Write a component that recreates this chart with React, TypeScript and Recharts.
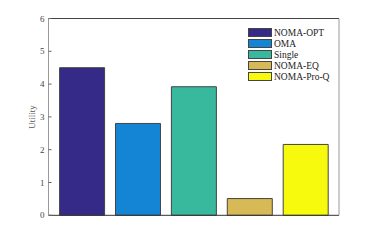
import React from 'react';
import { BarChart, Bar, XAxis, YAxis, Cell, ReferenceLine, Legend } from 'recharts';

const schemes = ['NOMA-OPT', 'OMA', 'Single', 'NOMA-EQ', 'NOMA-Pro-Q'];
const utility = [4.5, 2.8, 3.92, 0.51, 2.16];
const barColors = ['#352a87', '#1485d4', '#38b99e', '#d7ba56', '#f8fa0d'];
const yTicks = [0, 1, 2, 3, 4, 5, 6];

const data = schemes.map((name, i) => ({ name, value: utility[i] }));

const serif = 'Liberation Serif, Times New Roman, serif';

const renderLegend = () => (
  <div style={{ fontFamily: serif, fontSize: 9.5, color: '#222' }}>
    {schemes.map((s, i) => (
      <div key={s} style={{ display: 'flex', alignItems: 'center', height: 11 }}>
        <span
          style={{
            display: 'inline-block',
            width: 22,
            height: 7,
            background: barColors[i],
            border: '1px solid #444',
            marginRight: 2,
          }}
        />
        <span>{s}</span>
      </div>
    ))}
  </div>
);

// y-axis title drawn beside the left axis, centred on the plot height
const renderYLabel = (props: any) => {
  const vb = props.viewBox || {};
  const cx = (vb.x ?? 47.5) - 15;
  const cy = (vb.y ?? 18.5) + (vb.height ?? 197) / 2;
  return (
    <text
      x={cx}
      y={cy}
      transform={`rotate(-90 ${cx} ${cy})`}
      textAnchor="middle"
      dominantBaseline="central"
      fill="#555"
      fontSize={9}
      fontFamily={serif}
      style={{ textRendering: 'geometricPrecision' }}
    >
      Utility
    </text>
  );
};

export default function App() {
  return (
    <div style={{ position: 'absolute', left: 0, top: 0, width: 374, height: 242, background: '#fff' }}>
      <BarChart
        width={374}
        height={242}
        data={data}
        margin={{ top: 18.5, right: 34, bottom: 25.7, left: 47.5 }}
        barCategoryGap="10%"
      >
        <XAxis
          dataKey="name"
          height={1}
          tick={false}
          tickLine={false}
          padding={{ left: 5.5, right: 5.5 }}
          axisLine={{ stroke: '#333' }}
        />
        <YAxis
          yAxisId="l"
          width={1}
          domain={[0, 6]}
          ticks={yTicks}
          tickSize={-3}
          tickMargin={7}
          axisLine={{ stroke: '#999' }}
          tickLine={{ stroke: '#666' }}
          tick={{ fontSize: 9, fill: '#444', fontFamily: serif }}
          label={{ content: renderYLabel }}
        />
        <YAxis
          yAxisId="r"
          orientation="right"
          width={1}
          domain={[0, 6]}
          ticks={yTicks}
          tickSize={-3}
          tickFormatter={() => ''}
          axisLine={{ stroke: '#999' }}
          tickLine={{ stroke: '#666' }}
        />
        <ReferenceLine yAxisId="l" y={6} stroke="#444" />
        <Legend
          layout="vertical"
          align="center"
          verticalAlign="middle"
          content={renderLegend}
          wrapperStyle={{ position: 'absolute', left: 248, top: 27, width: 90 }}
        />
        <Bar yAxisId="l" dataKey="value" stroke="#444" strokeWidth={1} isAnimationActive={false}>
          {data.map((d, i) => (
            <Cell key={d.name} fill={barColors[i]} />
          ))}
        </Bar>
      </BarChart>
    </div>
  );
}
